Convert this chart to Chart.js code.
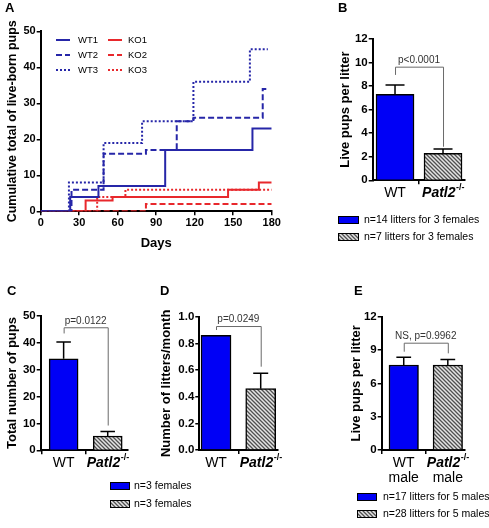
<!DOCTYPE html>
<html>
<head>
<meta charset="utf-8">
<script src="https://cdn.jsdelivr.net/npm/chart.js@4.4.1/dist/chart.umd.min.js"></script>
<style>
  html, body { margin: 0; padding: 0; background: #fff; }
  #wrap { position: relative; width: 489px; height: 528px; overflow: hidden; }
  #wrap canvas { position: absolute; left: 0; top: 0; }
</style>
</head>
<body>
<div id="wrap">
  <canvas id="cA" width="489" height="528"></canvas>
  <canvas id="cB" width="489" height="528"></canvas>
  <canvas id="cC" width="489" height="528"></canvas>
  <canvas id="cD" width="489" height="528"></canvas>
  <canvas id="cE" width="489" height="528"></canvas>
</div>
<script>
// ---------------- DATA ----------------
// Panel A: cumulative live-born pups (day of litter, cumulative total)
const wt1Days = [0, 23, 45, 97, 165, 180];
const wt1Pups = [0, 4, 7, 17, 23, 23];
const wt2Days = [0, 24, 49, 82, 106, 119, 173, 177];
const wt2Pups = [0, 6, 16, 17, 25, 26, 34, 34];
const wt3Days = [0, 22, 49, 79, 119, 163, 177];
const wt3Pups = [0, 8, 19, 25, 36, 45, 45];
const ko1Days = [0, 35, 56, 146, 170, 180];
const ko1Pups = [0, 3, 4, 6, 8, 8];
const ko2Days = [0, 82, 180];
const ko2Pups = [0, 2, 2];
const ko3Days = [0, 44, 66, 180];
const ko3Pups = [0, 4, 6, 6];
const seriesNames = ['WT1', 'WT2', 'WT3', 'KO1', 'KO2', 'KO3'];
const daysTicks = [0, 30, 60, 90, 120, 150, 180];

// Bar panels (mean, SEM)
const groups = ['WT', 'Patl2'];
const bMeans = [7.3, 2.3];   const bSem = [0.8, 0.35];
const cMeans = [34, 5.3];    const cSem = [6.2, 1.7];
const dMeans = [0.86, 0.46]; const dSem = [0, 0.115];
const eMeans = [7.65, 7.65]; const eSem = [0.7, 0.5];
const bP = 'p<0.0001';
const cP = 'p=0.0122';
const dP = 'p=0.0249';
const eP = 'NS, p=0.9962';
const bLegend = ['n=14 litters for 3 females', 'n=7 litters for 3 females'];
const cdLegend = ['n=3 females', 'n=3 females'];
const eLegend = ['n=17 litters for 5 males', 'n=28 litters for 5 males'];

// ---------------- STYLE ----------------
const FONT = "'Liberation Sans', Arial, Helvetica, sans-serif";
Chart.defaults.font.family = FONT;
Chart.defaults.color = '#000';
Chart.defaults.animation = false;
Chart.defaults.responsive = false;
Chart.defaults.devicePixelRatio = 1;
Chart.defaults.plugins.legend.display = false;
Chart.defaults.plugins.tooltip.enabled = false;

const BLUE_LINE = '#2626a8';
const RED_LINE = '#e8282c';
const BAR_BLUE = '#0000f6';
const GRAY = '#6a6a6a';

function hatch() {
  const c = document.createElement('canvas');
  c.width = 4; c.height = 4;
  const g = c.getContext('2d');
  g.fillStyle = '#e4e4e4';
  g.fillRect(0, 0, 4, 4);
  g.strokeStyle = '#505050';
  g.lineWidth = 1.3;
  g.beginPath();
  g.moveTo(-1, -1); g.lineTo(5, 5);
  g.moveTo(-1, 3); g.lineTo(1, 5);
  g.moveTo(3, -1); g.lineTo(5, 1);
  g.stroke();
  return g.createPattern(c, 'repeat');
}
const HATCH = hatch();

function drawPatl(ctx, cx, y, size) {
  ctx.save();
  ctx.textBaseline = 'middle';
  ctx.textAlign = 'left';
  ctx.font = `italic bold ${size}px ${FONT}`;
  const w1 = ctx.measureText('Patl2').width;
  const sSize = Math.round(size * 0.62);
  ctx.font = `bold ${sSize}px ${FONT}`;
  const w2 = ctx.measureText('-/-').width;
  const x0 = cx - (w1 + w2) / 2;
  ctx.font = `italic bold ${size}px ${FONT}`;
  ctx.fillText('Patl2', x0, y);
  ctx.font = `bold ${sSize}px ${FONT}`;
  ctx.fillText('-/-', x0 + w1 + 0.5, y - size * 0.38);
  ctx.restore();
}

function panelLetter(ctx, t, x, y) {
  ctx.save();
  ctx.font = `bold 13px ${FONT}`;
  ctx.fillStyle = '#000';
  ctx.textBaseline = 'top';
  ctx.textAlign = 'left';
  ctx.fillText(t, x, y);
  ctx.restore();
}

function barLegend(ctx, texts, sx, sw, tx, y0, dy) {
  ctx.save();
  ctx.font = `10.5px ${FONT}`;
  ctx.textBaseline = 'middle';
  ctx.textAlign = 'left';
  texts.forEach((t, i) => {
    const y = y0 + i * dy;
    ctx.fillStyle = i === 0 ? BAR_BLUE : HATCH;
    ctx.fillRect(sx, y - 4, sw, 8);
    ctx.strokeStyle = '#000';
    ctx.lineWidth = 1;
    ctx.strokeRect(sx + 0.5, y - 3.5, sw - 1, 7);
    ctx.fillStyle = '#000';
    ctx.fillText(t, tx, y);
  });
  ctx.restore();
}

// ---------------- PANEL A ----------------
function pts(days, vals) { return days.map((d, i) => ({ x: d, y: vals[i] })); }
const areaA = { left: 40.7, top: 31.3, right: 271.7, bottom: 211.3 };
const titleFontA = 12.5;
const xHA = 40;
const dsA = [
  { label: seriesNames[0], data: pts(wt1Days, wt1Pups), borderColor: BLUE_LINE, borderDash: [] },
  { label: seriesNames[1], data: pts(wt2Days, wt2Pups), borderColor: BLUE_LINE, borderDash: [6, 3] },
  { label: seriesNames[2], data: pts(wt3Days, wt3Pups), borderColor: BLUE_LINE, borderDash: [2, 2] },
  { label: seriesNames[3], data: pts(ko1Days, ko1Pups), borderColor: RED_LINE, borderDash: [] },
  { label: seriesNames[4], data: pts(ko2Days, ko2Pups), borderColor: RED_LINE, borderDash: [6, 3] },
  { label: seriesNames[5], data: pts(ko3Days, ko3Pups), borderColor: RED_LINE, borderDash: [2, 2] },
].map(d => Object.assign(d, { stepped: true, pointRadius: 0, borderWidth: 2, fill: false, tension: 0 }));

const pluginA = {
  id: 'pA',
  afterDraw(chart) {
    const ctx = chart.ctx;
    panelLetter(ctx, 'A', 5, 2);
    ctx.save();
    ctx.font = `9.5px ${FONT}`;
    ctx.textBaseline = 'middle';
    chart.data.datasets.forEach((ds, i) => {
      const col = i < 3 ? 0 : 1, row = i % 3;
      const y = 40 + row * 15;
      const lx = col ? 108 : 56;
      const tx = col ? 128 : 78;
      ctx.strokeStyle = ds.borderColor;
      ctx.lineWidth = 2;
      ctx.setLineDash(ds.borderDash);
      ctx.beginPath(); ctx.moveTo(lx, y); ctx.lineTo(lx + 14, y); ctx.stroke();
      ctx.setLineDash([]);
      ctx.fillStyle = '#000';
      ctx.fillText(ds.label, tx, y);
    });
    ctx.restore();
  }
};

new Chart(document.getElementById('cA'), {
  type: 'line',
  data: { datasets: dsA },
  options: {
    layout: { padding: { left: 12.5 - titleFontA * 0.6, top: areaA.top, right: 489 - areaA.right, bottom: 528 - areaA.bottom - xHA } },
    scales: {
      x: {
        type: 'linear', min: 0, max: 180,
        afterBuildTicks: s => { s.ticks = daysTicks.map(v => ({ value: v })); },
        afterFit: s => { s.height = xHA; },
        grid: { drawOnChartArea: false, drawTicks: true, tickLength: 4, color: '#000', lineWidth: 1.5 },
        border: { display: true, color: '#000', width: 2 },
        ticks: { font: { size: 11, weight: 'bold' }, padding: 1, maxRotation: 0, color: '#000' },
        title: { display: true, text: 'Days', font: { size: 13, weight: 'bold' }, padding: 0, color: '#000' }
      },
      y: {
        min: 0, max: 50,
        ticks: { stepSize: 10, font: { size: 11, weight: 'bold' }, padding: 1, color: '#000' },
        afterFit: s => { s.width = areaA.left - (12.5 - titleFontA * 0.6); },
        grid: { drawOnChartArea: false, drawTicks: true, tickLength: 4, color: '#000', lineWidth: 1.5 },
        border: { display: true, color: '#000', width: 2 },
        title: { display: true, text: 'Cumulative total of live-born pups', font: { size: titleFontA, weight: 'bold' }, padding: 0, color: '#000' }
      }
    }
  },
  plugins: [pluginA]
});

// ---------------- BAR PANELS ----------------
function barPanel(id, cfg) {
  const tf = 13;
  const padLeft = cfg.titleX - tf * 0.6;
  const xH = 20;
  const plugin = {
    id: 'p' + id,
    afterDatasetsDraw(chart) {
      const ctx = chart.ctx;
      const ys = chart.scales.y, xs = chart.scales.x;
      const meta = chart.getDatasetMeta(0);
      ctx.save();
      // error bars (upward only)
      ctx.strokeStyle = '#000';
      ctx.lineWidth = 1.5;
      meta.data.forEach((bar, i) => {
        const s = cfg.sem[i];
        if (!s) return;
        const yTop = ys.getPixelForValue(cfg.means[i] + s);
        const cw = bar.width / 2;
        ctx.beginPath();
        ctx.moveTo(bar.x, bar.y);
        ctx.lineTo(bar.x, yTop);
        ctx.moveTo(bar.x - cw / 2, yTop);
        ctx.lineTo(bar.x + cw / 2, yTop);
        ctx.stroke();
      });
      // significance bracket
      const b = cfg.bracket;
      const x0 = xs.getPixelForValue(0), x1 = xs.getPixelForValue(1);
      const yb = ys.getPixelForValue(b[0]);
      ctx.strokeStyle = GRAY;
      ctx.lineWidth = 1;
      ctx.beginPath();
      ctx.moveTo(x0 + 0.5, ys.getPixelForValue(b[1]));
      ctx.lineTo(x0 + 0.5, yb + 0.5);
      ctx.lineTo(x1 + 0.5, yb + 0.5);
      ctx.lineTo(x1 + 0.5, ys.getPixelForValue(b[2]));
      ctx.stroke();
      ctx.fillStyle = '#333';
      ctx.font = `10px ${FONT}`;
      ctx.textAlign = 'center';
      ctx.textBaseline = 'bottom';
      ctx.fillText(cfg.pText, (x0 + x1) / 2, yb - 1.5);
      // category labels
      const ly = cfg.area.bottom + 13;
      ctx.fillStyle = '#000';
      ctx.font = `14px ${FONT}`;
      ctx.textBaseline = 'middle';
      ctx.fillText(groups[0], x0, ly);
      drawPatl(ctx, x1, ly, 14);
      if (cfg.twoLine) {
        ctx.font = `14px ${FONT}`;
        ctx.textAlign = 'center';
        ctx.fillText('male', x0, ly + 15.5);
        ctx.fillText('male', x1, ly + 15.5);
      }
      ctx.restore();
      if (cfg.extra) cfg.extra(ctx);
    }
  };
  return new Chart(document.getElementById(id), {
    type: 'bar',
    data: {
      datasets: [{
        data: cfg.means.map((m, i) => ({ x: i, y: m })),
        backgroundColor: [BAR_BLUE, HATCH],
        borderColor: '#000',
        borderWidth: 1.5,
        borderSkipped: 'bottom',
        barThickness: cfg.thick
      }]
    },
    options: {
      layout: { padding: { left: padLeft, top: cfg.area.top, right: 489 - cfg.area.right, bottom: 528 - cfg.area.bottom - xH } },
      scales: {
        x: {
          type: 'linear', min: cfg.xmin, max: cfg.xmax, offset: false,
          afterBuildTicks: s => { s.ticks = [{ value: 0 }, { value: 1 }]; },
          afterFit: s => { s.height = xH; },
          grid: { drawOnChartArea: false, drawTicks: true, tickLength: 4, color: '#000', lineWidth: 1.5 },
          border: { display: true, color: '#000', width: 2 },
          ticks: { display: false }
        },
        y: {
          min: 0, max: cfg.ymax,
          ticks: { stepSize: cfg.ystep, font: { size: 11.5, weight: 'bold' }, padding: 1, color: '#000',
                   callback: cfg.fmt || (v => v) },
          afterFit: s => { s.width = cfg.area.left - padLeft; },
          grid: { drawOnChartArea: false, drawTicks: true, tickLength: 4, color: '#000', lineWidth: 1.5 },
          border: { display: true, color: '#000', width: 2 },
          title: { display: true, text: cfg.title, font: { size: tf, weight: 'bold' }, padding: 0, color: '#000' }
        }
      }
    },
    plugins: [plugin]
  });
}

barPanel('cB', {
  means: bMeans, sem: bSem, ymax: 12, ystep: 2,
  area: { left: 372.7, top: 39, right: 465, bottom: 180.3 },
  xmin: -0.465, xmax: 1.458, thick: 38, titleX: 345.5,
  title: 'Live pups per litter', bracket: [9.65, 8.95, 2.85], pText: bP,
  extra: ctx => { panelLetter(ctx, 'B', 338, 2); barLegend(ctx, bLegend, 338, 21, 364, 220, 17); }
});

barPanel('cC', {
  means: cMeans, sem: cSem, ymax: 50, ystep: 10,
  area: { left: 40.7, top: 315.7, right: 128, bottom: 450.3 },
  xmin: -0.52, xmax: 1.46, thick: 29, titleX: 12.5,
  title: 'Total number of pups', bracket: [45.7, 43.4, 9.2], pText: cP,
  extra: ctx => { panelLetter(ctx, 'C', 7, 285); barLegend(ctx, cdLegend, 110, 20, 134, 486, 18); }
});

barPanel('cD', {
  means: dMeans, sem: dSem, ymax: 1.0, ystep: 0.2, fmt: v => v.toFixed(1),
  area: { left: 199.3, top: 316.7, right: 278, bottom: 450 },
  xmin: -0.374, xmax: 1.387, thick: 30, titleX: 166,
  title: 'Number of litters/month', bracket: [0.93, 0.9, 0.625], pText: dP,
  extra: ctx => { panelLetter(ctx, 'D', 160, 285); }
});

barPanel('cE', {
  means: eMeans, sem: eSem, ymax: 12, ystep: 3,
  area: { left: 381.7, top: 316.7, right: 465, bottom: 450 },
  xmin: -0.5, xmax: 1.39, thick: 29.5, titleX: 356.5, twoLine: true,
  title: 'Live pups per litter', bracket: [9.66, 8.85, 8.7], pText: eP,
  extra: ctx => { panelLetter(ctx, 'E', 354, 285); barLegend(ctx, eLegend, 357, 20, 383, 497, 17); }
});
</script>
</body>
</html>
